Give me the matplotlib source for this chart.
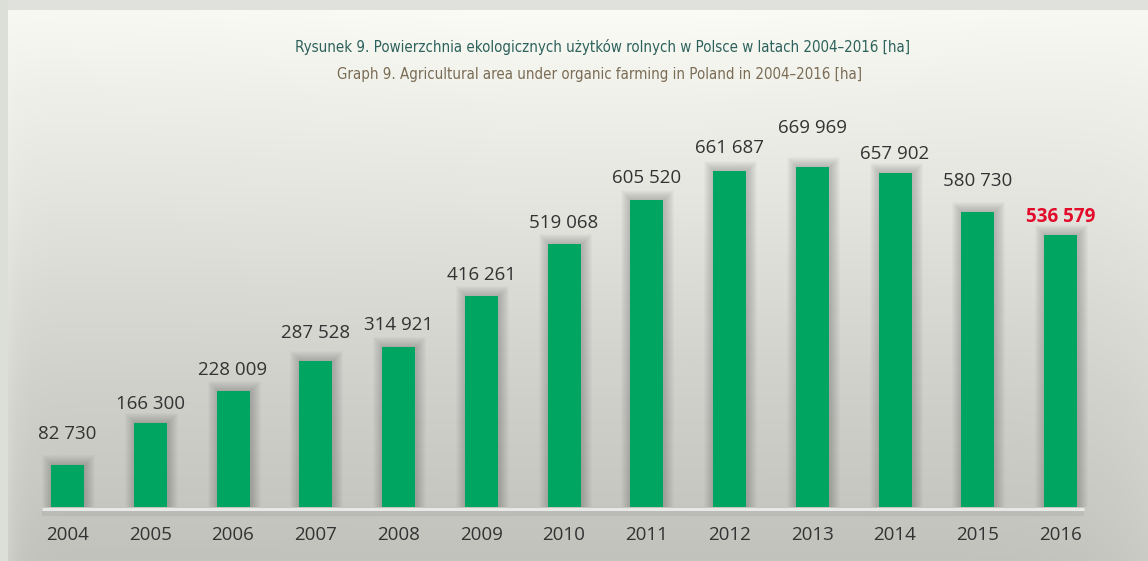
import matplotlib
matplotlib.use("Agg")
import matplotlib.pyplot as plt
from matplotlib import font_manager
import numpy as np

years = ["2004", "2005", "2006", "2007", "2008", "2009", "2010",
         "2011", "2012", "2013", "2014", "2015", "2016"]
area_ha = [82730, 166300, 228009, 287528, 314921, 416261, 519068,
           605520, 661687, 669969, 657902, 580730, 536579]
value_labels = ["82 730", "166 300", "228 009", "287 528", "314 921", "416 261", "519 068",
                "605 520", "661 687", "669 969", "657 902", "580 730", "536 579"]
# gap (px) between bar top and its label, as placed in the original
label_gap_px = [26, 14, 16, 23, 17, 16, 16, 17, 18, 34, 14, 26, 13]

title_pl = "Rysunek 9. Powierzchnia ekologicznych użytków rolnych w Polsce w latach 2004–2016 [ha]"
title_en = "Graph 9. Agricultural area under organic farming in Poland in 2004–2016 [ha]"

W, H, DPI = 1148, 561, 100
BAR_COLOR = "#00a562"
HIGHLIGHT = "#e30b2a"

names = {f.name for f in font_manager.fontManager.ttflist}
if "Liberation Sans Narrow" in names:
    title_font = dict(family="Liberation Sans Narrow", fontsize=13)
else:
    title_font = dict(family="DejaVu Sans", fontstretch="condensed", fontsize=10.8)
body_font = ["Open Sans", "Noto Sans", "DejaVu Sans"]

fig = plt.figure(figsize=(W / DPI, H / DPI), dpi=DPI)

# background panel with soft gradient
bg = fig.add_axes([0, 0, 1, 1])
yy, xx = np.mgrid[0:H, 0:W].astype(float)
g = np.interp(yy, [10, 100, 200, 300, 400, 561], [248, 238, 228, 217, 207, 194])
g += 4 * np.exp(-((xx - 600) / 350) ** 2) * np.exp(-yy / 200)
g += 14 * np.exp(-(xx - 8).clip(0) / 12) * (yy / H)
g += 10 * np.exp(-(W - xx) / 50) * (yy / H)
img = np.stack([g - 1, g, g - 6], axis=-1)
img[:10, :] = [224, 225, 220]
img[:, :8] = [220, 223, 216]
bg.imshow(np.clip(img, 0, 255).astype(np.uint8), extent=[0, W, H, 0], aspect="auto")
bg.axis("off")

ax = fig.add_axes([0, 0, 1, 1])
ax.patch.set_alpha(0)
px_x = 82.75            # px per category
px_y = 669969 / 340.0   # value per px
x0 = 67.5
ax.set_xlim(-x0 / px_x, (W - x0) / px_x)
ax.set_ylim(-54 * px_y, (H - 54) * px_y)
ax.axis("off")

x = np.arange(len(years))
bw = 33 / px_x

# soft shadows behind bars
for k in range(1, 11):
    ax.bar(x + 1.0 / px_x, np.array(area_ha) + k * 1.0 * px_y, width=bw + 2 * k * 1.0 / px_x,
           color="black", alpha=0.018, zorder=2, linewidth=0)

# baseline
xl = [(42 - x0) / px_x, (1084 - x0) / px_x]
ax.plot(xl, [-5 * px_y] * 2, color="black", alpha=0.05, lw=6, zorder=2, solid_capstyle="butt")
ax.plot(xl, [-1.5 * px_y] * 2, color="#e8e8e6", lw=2.2, zorder=3, solid_capstyle="butt")

ax.bar(x, area_ha, width=bw, color=BAR_COLOR, zorder=4, linewidth=0)

for i, (v, lab, gap) in enumerate(zip(area_ha, value_labels, label_gap_px)):
    last = i == len(years) - 1
    ax.text(i, v + gap * px_y, lab, ha="center", va="baseline",
            fontsize=13.5, family=body_font,
            color=HIGHLIGHT if last else "#333333",
            fontweight="bold" if last else "normal", zorder=5)
    ax.text(i, -28 * px_y, years[i], ha="center", va="center",
            fontsize=13.5, family=body_font, color="#333333", zorder=5)

fig.text(603 / W, 1 - 47 / H, title_pl, ha="center", va="center",
         color="#2d615b", **title_font)
fig.text(600 / W, 1 - 75 / H, title_en, ha="center", va="center",
         color="#7b6c55", **title_font)

fig.savefig("out.png", dpi=DPI)
